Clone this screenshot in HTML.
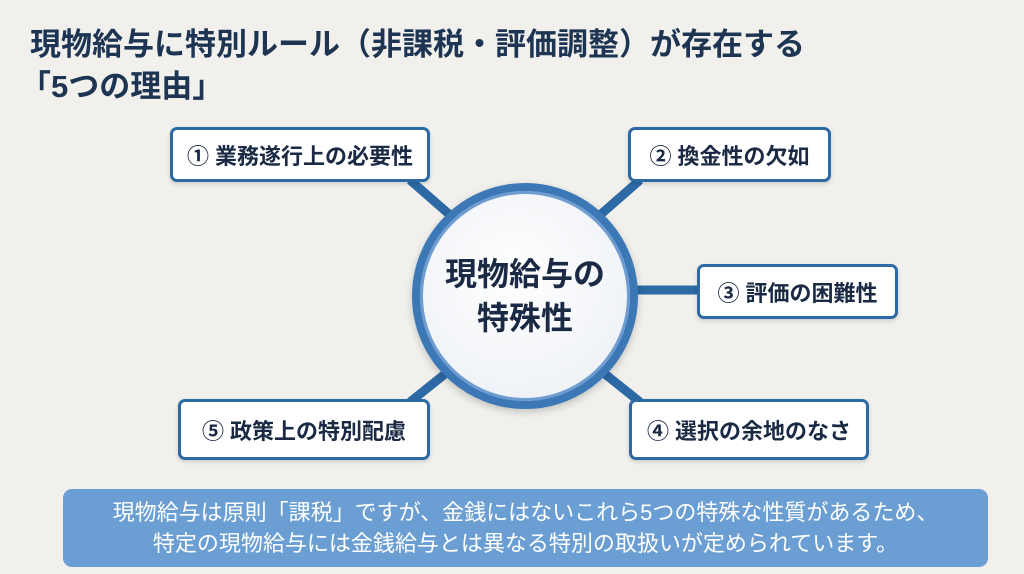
<!DOCTYPE html>
<html><head><meta charset="utf-8"><style>
body{margin:0;width:1024px;height:574px;background:#f1f0ec;font-family:"Liberation Sans","Noto Sans CJK JP",sans-serif;position:relative;overflow:hidden}
.t{position:absolute;left:30px;font-size:31px;font-weight:bold;color:#1d3553;white-space:nowrap;line-height:36px}
.b{position:absolute;background:#fff;border:3px solid #2d6aa5;border-radius:7px;box-sizing:border-box;display:flex;align-items:center;justify-content:center;font-size:22px;font-weight:bold;color:#1b2a44;box-shadow:0 2px 4px rgba(0,0,0,.15);white-space:nowrap}
svg{position:absolute;left:0;top:0}
.c{position:absolute;left:412px;top:183px;width:226px;height:226px;border-radius:50%;box-sizing:border-box;border:8px solid #3d78b6;background:radial-gradient(circle at 45% 40%,#fff,#e9edf3);box-shadow:0 0 0 3px #6d9cd0 inset,0 3px 8px rgba(0,0,0,.2);display:flex;align-items:center;justify-content:center;text-align:center;font-size:32px;font-weight:bold;color:#1b2a44;line-height:44px}
.f{position:absolute;left:63px;top:489px;width:925px;height:78px;background:#6b9fd3;border-radius:9px;color:#fff;font-size:22px;text-align:center;line-height:31px;padding-top:8px;box-sizing:border-box;white-space:nowrap}
</style></head><body>
<div class="t" style="top:27px">現物給与に特別ルール（非課税・評価調整）が存在する</div>
<div class="t" style="top:69px;left:20px">「5つの理由」</div>
<svg width="1024" height="574"><g stroke="#2d6aa5" stroke-width="9">
<line x1="410" y1="180" x2="450" y2="215"/><line x1="640" y1="180" x2="600" y2="215"/>
<line x1="630" y1="290" x2="700" y2="290"/><line x1="410" y1="402" x2="450" y2="370"/><line x1="640" y1="402" x2="600" y2="370"/></g></svg>
<div class="b" style="left:170px;top:127px;width:260px;height:55px">① 業務遂行上の必要性</div>
<div class="b" style="left:628px;top:127px;width:203px;height:55px">② 換金性の欠如</div>
<div class="b" style="left:697px;top:264px;width:201px;height:55px">③ 評価の困難性</div>
<div class="b" style="left:629px;top:399px;width:240px;height:61px">④ 選択の余地のなさ</div>
<div class="b" style="left:178px;top:399px;width:252px;height:61px">⑤ 政策上の特別配慮</div>
<div class="c">現物給与の<br>特殊性</div>
<div class="f">現物給与は原則「課税」ですが、金銭にはないこれら5つの特殊な性質があるため、<br>特定の現物給与には金銭給与とは異なる特別の取扱いが定められています。</div>
</body></html>
